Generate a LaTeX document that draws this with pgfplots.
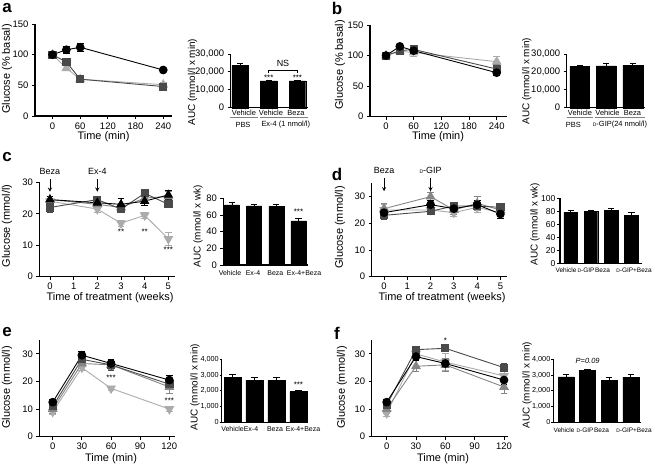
\documentclass[border=0pt]{standalone}
\usepackage{fontspec}
\setmainfont{Liberation Sans}
\usepackage{pgfplots}
\pgfplotsset{compat=1.18}
\definecolor{dk}{HTML}{4A4A4A}
\definecolor{md}{HTML}{858585}
\definecolor{lt}{HTML}{ABABAB}
\newcommand\fs[1]{\fontsize{#1}{#1}\selectfont}
\newcommand\sD{{\fs{5}D}}
\pgfplotsset{
  base/.style={scale only axis, anchor=south west, axis lines=left,
    axis line style={-, line width=1.1bp}, every tick/.style={black, line width=0.9bp},
    major tick length=3bp, tick align=outside, clip=false,
    ticklabel style={font=\fs{9.5}}, /pgf/number format/assume math mode=true,
    scaled ticks=false, /pgf/number format/1000 sep={,}},
  lp/.style={base, ymin=0,
    error bars/y dir=both, error bars/y explicit,
    error bars/error bar style={line width=0.9bp},
    error bars/error mark options={rotate=90, mark size=3.4bp, line width=0.9bp}},
  bp/.style={base, ybar, bar shift=0pt, xtick=\empty, ymin=0,
    error bars/y dir=plus, error bars/y explicit,
    error bars/error bar style={line width=0.9bp, black},
    error bars/error mark options={rotate=90, mark size=3.2bp, line width=0.9bp, black}},
  s1/.style={black, line width=0.9bp, mark=*, mark size=3.9bp, mark options={solid}},
  s2/.style={dk, line width=0.9bp, mark=square*, mark size=3.6bp, mark options={solid}},
  s3/.style={md, line width=0.9bp, mark=triangle*, mark size=4.8bp, mark options={solid}},
  s4/.style={lt, line width=0.9bp, mark=triangle*, mark size=4.8bp, mark options={solid, rotate=180}},
  bars/.style={fill=black, draw=black},
}
\begin{document}
\begin{tikzpicture}
\useasboundingbox (0,0) rectangle (662bp,-467bp);

% ---------------- panel a line
\begin{axis}[lp, at={(35bp,-116bp)}, width=137bp, height=92bp,
  xmin=-38, xmax=259, ymax=150, xtick={0,60,120,180,240}, ytick={0,50,100,150}]
\addplot[s4, mark=triangle*, mark options={solid}] coordinates {(0,100)+-(0,2) (30,78)+-(0,4) (60,60)+-(0,4) (240,51)+-(0,3)};
\addplot[s2] coordinates {(0,100)+-(0,2) (30,88)+-(0,6) (60,60)+-(0,5) (240,48)+-(0,4)};
\addplot[s1] coordinates {(0,100)+-(0,3) (30,108)+-(0,6) (60,112)+-(0,6) (240,75)+-(0,2)};
\end{axis}

% ---------------- panel a bars
\begin{axis}[bp, at={(230.7bp,-107.7bp)}, width=77.3bp, height=53.7bp,
  xmin=-0.33, xmax=2.37, ymax=30000, bar width=0.58, ytick={0,10000,20000,30000}]
\addplot[bars] coordinates {(0,23500)+-(0,1000) (1,15000)+-(0,500) (2,15000)+-(0,500)};
\node[font=\fs{8}] at (axis cs:1,16800) {***};
\node[font=\fs{8}] at (axis cs:2,16800) {***};
\end{axis}
\begin{scope}[every node/.style={font=\fs{7.5}}]
\node at (244bp,-113bp) {Vehicle};
\node at (271bp,-113bp) {Vehicle};
\node at (296bp,-113bp) {Beza};
\node at (243bp,-125bp) {PBS};
\node at (285.8bp,-125bp) {Ex-4 (1 nmol/l)};
\end{scope}
\draw[gray, line width=0.8bp] (230bp,-117.8bp) -- (258bp,-117.8bp);
\draw[gray, line width=0.8bp] (260bp,-117.8bp) -- (308bp,-117.8bp);
\draw[line width=0.8bp] (268bp,-73bp) -- (268bp,-70bp) -- (297.5bp,-70bp) -- (297.5bp,-73bp);
\node[font=\fs{9}] at (283bp,-63bp) {NS};

% ---------------- panel b line
\begin{axis}[lp, at={(370bp,-116.7bp)}, width=136.7bp, height=91.7bp,
  xmin=-34.7, xmax=261.7, ymax=150, xtick={0,60,120,180,240}, ytick={0,50,100,150}]
\addplot[s4, mark=triangle*, mark options={solid}] coordinates {(0,100)+-(0,2) (30,107)+-(0,4) (60,105)+-(0,6) (240,90)+-(0,9)};
\addplot[s2] coordinates {(0,100)+-(0,2) (30,108)+-(0,4) (60,110)+-(0,5) (240,78)+-(0,8)};
\addplot[s1] coordinates {(0,100)+-(0,2) (30,115)+-(0,3) (60,108)+-(0,5) (240,72)+-(0,4)};
\end{axis}

% ---------------- panel b bars
\begin{axis}[bp, at={(566.7bp,-107.7bp)}, width=78.3bp, height=53.7bp,
  xmin=-0.49, xmax=2.46, ymax=30000, bar width=0.75, ytick={0,10000,20000,30000}]
\addplot[bars] coordinates {(0,23000)+-(0,500) (1,23300)+-(0,1200) (2,23800)+-(0,1200)};
\end{axis}
\begin{scope}[every node/.style={font=\fs{7.5}}]
\node at (580bp,-113bp) {Vehicle};
\node at (607.5bp,-113bp) {Vehicle};
\node at (632.5bp,-113bp) {Beza};
\node at (573.3bp,-125bp) {PBS};
\node at (620bp,-125bp) {\sD-GIP(24 nmol/l)};
\end{scope}
\draw[gray, line width=0.8bp] (566.7bp,-117.8bp) -- (593bp,-117.8bp);
\draw[gray, line width=0.8bp] (595bp,-117.8bp) -- (645bp,-117.8bp);

% ---------------- panel c line
\begin{axis}[lp, at={(39.3bp,-276.7bp)}, width=135.7bp, height=94.4bp,
  xmin=-0.45, xmax=5.28, ymax=30, xtick={0,1,2,3,4,5}, ytick={0,10,20,30}]
\addplot[s4] coordinates {(0,24)+-(0,1) (2,21.5)+-(0,1) (3,17)+-(0,1) (4,19.5)+-(0,1) (5,12)+-(0,2)};
\addplot[s3] coordinates {(0,24.5)+-(0,1) (2,23)+-(0,1) (3,22)+-(0,1) (4,25)+-(0,1.5) (5,25.5)+-(0,1.5)};
\addplot[s2] coordinates {(0,22)+-(0,1.5) (2,24.5)+-(0,1) (3,21.5)+-(0,1) (4,26.5)+-(0,1) (5,23)+-(0,1)};
\addplot[s1, mark=triangle*, mark size=4.6bp] coordinates {(0,24.5)+-(0,1) (2,23.5)+-(0,1) (3,23)+-(0,2) (4,24)+-(0,1.5) (5,26)+-(0,1.5)};
\node[font=\fs{8}] at (axis cs:3,14.3) {**};
\node[font=\fs{8}] at (axis cs:4,14.3) {**};
\node[font=\fs{8}] at (axis cs:5,8.7) {***};
\node[font=\fs{9}, anchor=south] at (axis cs:0,31.3) {Beza};
\node[font=\fs{9}, anchor=south] at (axis cs:2,31.3) {Ex-4};
\draw[-stealth, line width=0.9bp] (axis cs:0,31) -- (axis cs:0,27);
\draw[-stealth, line width=0.9bp] (axis cs:2,31) -- (axis cs:2,27);
\end{axis}

% ---------------- panel c bars
\begin{axis}[bp, at={(223.3bp,-265bp)}, width=84.7bp, height=66.7bp,
  xmin=-0.39, xmax=3.43, ymax=80, bar width=0.68, ytick={0,20,40,60,80}]
\addplot[bars] coordinates {(0,72)+-(0,2.5) (1,71)+-(0,1.5) (2,70.5)+-(0,2.5) (3,53)+-(0,3)};
\node[font=\fs{8}] at (axis cs:3,64) {***};
\end{axis}
\begin{scope}[every node/.style={font=\fs{7}}]
\node at (230bp,-273.3bp) {Vehicle};
\node at (253bp,-273.3bp) {Ex-4};
\node at (275.3bp,-273.3bp) {Beza};
\node at (304bp,-273.3bp) {Ex-4+Beza};
\end{scope}

% ---------------- panel d line
\begin{axis}[lp, at={(371.7bp,-276.7bp)}, width=135bp, height=93.4bp,
  xmin=-0.53, xmax=5.27, ymax=35, xtick={0,1,2,3,4,5}, ytick={0,10,20,30}]
\addplot[s4] coordinates {(0,25)+-(0,2) (2,25)+-(0,1.5) (3,24)+-(0,1.5) (4,26)+-(0,2) (5,24)+-(0,2)};
\addplot[s3] coordinates {(0,25.5)+-(0,2) (2,30)+-(0,1.5) (3,25)+-(0,1.5) (4,27.5)+-(0,2.5) (5,25)+-(0,2)};
\addplot[s2] coordinates {(0,23)+-(0,1.5) (2,24.5)+-(0,1) (3,26.5)+-(0,1) (4,26.5)+-(0,1) (5,26)+-(0,1.5)};
\addplot[s1] coordinates {(0,24)+-(0,1.5) (2,27)+-(0,1.5) (3,25.5)+-(0,1) (4,27)+-(0,1.5) (5,23.5)+-(0,1.5)};
\node[font=\fs{9}, anchor=south] at (axis cs:0,37.3) {Beza};
\node[font=\fs{9}, anchor=south] at (axis cs:2,37.3) {\sD-GIP};
\draw[-stealth, line width=0.9bp] (axis cs:0,37) -- (axis cs:0,32);
\draw[-stealth, line width=0.9bp] (axis cs:2,37) -- (axis cs:2,32);
\end{axis}

% ---------------- panel d bars
\begin{axis}[bp, at={(560bp,-263.3bp)}, width=81.7bp, height=65bp,
  xmin=-0.53, xmax=3.51, ymax=100, bar width=0.67, ytick={0,20,40,60,80,100},
  ticklabel style={font=\fs{8.6}, inner sep=1.5bp}]
\addplot[bars] coordinates {(0,78)+-(0,4) (1,79.5)+-(0,2) (2,81)+-(0,3) (3,74)+-(0,4)};
\end{axis}
\begin{scope}[every node/.style={font=\fs{6.5}}]
\node at (566bp,-270.5bp) {Vehicle};
\node at (586bp,-270.5bp) {\sD-GIP};
\node at (602.5bp,-270.5bp) {Beza};
\node at (634bp,-270.5bp) {\sD-GIP+Beza};
\end{scope}

% ---------------- panel e line
\begin{axis}[lp, at={(39.3bp,-436.7bp)}, width=135.7bp, height=96.7bp,
  xmin=-13.8, xmax=125.8, ymax=35, xtick={0,30,60,90,120}, ytick={0,10,20,30}]
\addplot[s4] coordinates {(0,9)+-(0,1) (30,25)+-(0,1) (60,17.5)+-(0,0.7) (120,10)+-(0,0.7)};
\addplot[s3] coordinates {(0,10)+-(0,1.5) (30,26.5)+-(0,1.5) (60,26)+-(0,1.5) (120,18)+-(0,2.5)};
\addplot[s2] coordinates {(0,11)+-(0,1) (30,28)+-(0,1.5) (60,26)+-(0,2) (120,19)+-(0,2)};
\addplot[s1] coordinates {(0,12.5)+-(0,1) (30,29.5)+-(0,1.5) (60,26.5)+-(0,1.5) (120,20.5)+-(0,1.5)};
\node[font=\fs{8}] at (axis cs:60,21.5) {***};
\node[font=\fs{8}] at (axis cs:120,13) {***};
\end{axis}

% ---------------- panel e bars
\begin{axis}[bp, at={(221.7bp,-422.3bp)}, width=86.6bp, height=63bp,
  xmin=-0.49, xmax=3.45, ymax=4000, bar width=0.77, ytick={0,1000,2000,3000,4000},
  ticklabel style={font=\fs{7.3}, inner sep=0.8bp}, major tick length=2bp]
\addplot[bars] coordinates {(0,2870)+-(0,150) (1,2680)+-(0,170) (2,2650)+-(0,200) (3,1950)+-(0,50)};
\node[font=\fs{8}] at (axis cs:3,2370) {***};
\end{axis}
\begin{scope}[every node/.style={font=\fs{7}}]
\node at (232.5bp,-429bp) {Vehicle};
\node at (251bp,-429bp) {Ex-4};
\node at (275bp,-429bp) {Beza};
\node at (303bp,-429bp) {Ex-4+Beza};
\end{scope}

% ---------------- panel f line
\begin{axis}[lp, at={(371.7bp,-436.7bp)}, width=136.6bp, height=96.7bp,
  xmin=-15.3, xmax=124.4, ymax=35, xtick={0,30,60,90,120}, ytick={0,10,20,30}]
\addplot[s4] coordinates {(0,8.5)+-(0,1) (30,30)+-(0,1.5) (60,27)+-(0,3) (120,22)+-(0,2)};
\addplot[s3] coordinates {(0,10)+-(0,1.5) (30,25.5)+-(0,2) (60,26)+-(0,2.5) (120,18)+-(0,2.5)};
\addplot[s2] coordinates {(0,11.5)+-(0,1) (30,31.5)+-(0,1) (60,32)+-(0,1) (120,25)+-(0,1.5)};
\addplot[s1] coordinates {(0,12.5)+-(0,1) (30,29)+-(0,1.5) (60,26.5)+-(0,1.5) (120,20.5)+-(0,1.5)};
\node[font=\fs{8}] at (axis cs:60,34.6) {*};
\end{axis}

% ---------------- panel f bars
\begin{axis}[bp, at={(553.3bp,-422.3bp)}, width=87.4bp, height=63bp,
  xmin=-0.59, xmax=3.46, ymax=4000, bar width=0.74, ytick={0,1000,2000,3000,4000},
  ticklabel style={font=\fs{7.3}, inner sep=0.8bp}, major tick length=2bp]
\addplot[bars] coordinates {(0,2880)+-(0,150) (1,3300)+-(0,60) (2,2650)+-(0,200) (3,2870)+-(0,180)};
\node[font=\fs{7.5}] at (axis cs:1,3892) {\textit{P=0.09}};
\end{axis}
\begin{scope}[every node/.style={font=\fs{6.5}}]
\node at (564bp,-430bp) {Vehicle};
\node at (585bp,-430bp) {\sD-GIP};
\node at (601.5bp,-430bp) {Beza};
\node at (634bp,-430bp) {\sD-GIP+Beza};
\end{scope}

% ---------------- labels
\begin{scope}[every node/.style={font=\fs{11}, rotate=90}]
\node at (7bp,-69bp) {Glucose (\% basal)};
\node at (340bp,-65bp) {Glucose (\% basal)};
\node at (7bp,-226bp) {Glucose (mmol/l)};
\node at (340bp,-227.5bp) {Glucose (mmol/l)};
\node at (7bp,-387.5bp) {Glucose (mmol/l)};
\node at (342bp,-387.5bp) {Glucose (mmol/l)};
\end{scope}
\begin{scope}[every node/.style={font=\fs{10}, rotate=90}]
\node at (192.5bp,-82bp) {AUC (mmol/l x min)};
\node at (526.7bp,-81bp) {AUC (mmol/l x min)};
\node at (198bp,-226bp) {AUC (mmol/l x wk)};
\node at (535bp,-224bp) {AUC (mmol/l x wk)};
\node at (195bp,-387bp) {AUC (mmol/l x min)};
\node at (527bp,-385bp) {AUC (mmol/l x min)};
\end{scope}
\begin{scope}[every node/.style={font=\fs{11}}]
\node at (103.5bp,-137bp) {Time (min)};
\node at (438bp,-137bp) {Time (min)};
\node at (110bp,-298bp) {Time of treatment (weeks)};
\node at (442bp,-298bp) {Time of treatment (weeks)};
\node at (111bp,-459bp) {Time (min)};
\node at (443bp,-459bp) {Time (min)};
\end{scope}
\begin{scope}[every node/.style={font=\fs{17}\bfseries}]
\node at (7bp,-8bp) {a};
\node at (337bp,-8bp) {b};
\node at (7bp,-157bp) {c};
\node at (337bp,-174bp) {d};
\node at (7bp,-332bp) {e};
\node at (337bp,-333bp) {f};
\end{scope}
\end{tikzpicture}
\end{document}
